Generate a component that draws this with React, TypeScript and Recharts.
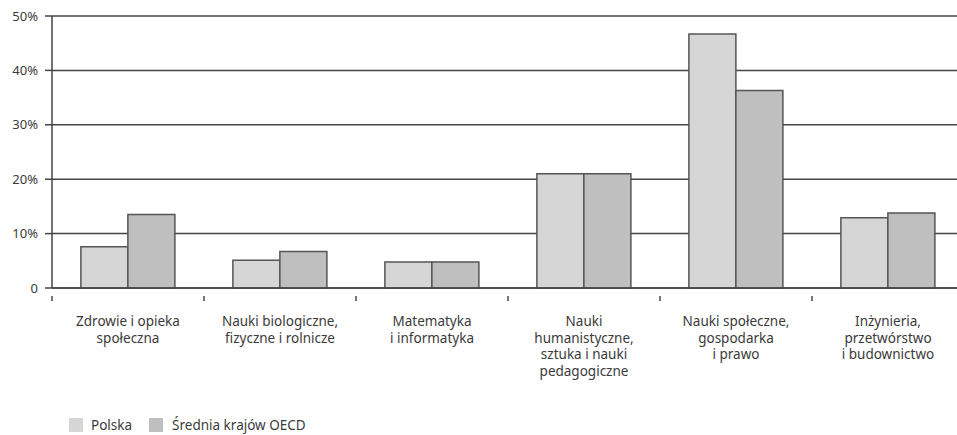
import React from 'react';
import {
  BarChart,
  Bar,
  CartesianGrid,
  XAxis,
  YAxis,
  Legend,
} from 'recharts';

const categories = [
  'Zdrowie i opieka\nspołeczna',
  'Nauki biologiczne,\nfizyczne i rolnicze',
  'Matematyka\ni informatyka',
  'Nauki\nhumanistyczne,\nsztuka i nauki\npedagogiczne',
  'Nauki społeczne,\ngospodarka\ni prawo',
  'Inżynieria,\nprzetwórstwo\ni budownictwo',
];
const polska = [7.6, 5.1, 4.8, 21.0, 46.7, 12.9];
const oecd = [13.5, 6.7, 4.8, 21.0, 36.3, 13.8];
const yTicks = [0, 10, 20, 30, 40, 50];

const data = categories.map((name, i) => ({
  name,
  polska: polska[i],
  oecd: oecd[i],
}));

const FONT = '"Noto Sans", "Open Sans", sans-serif';
const TEXT = '#3a3a3a';
const LINE = '#444';
const CHART_W = 964;
const BAND = (CHART_W - 52) / categories.length;

const CategoryTick = (props: any) => {
  const { x, y, payload } = props;
  const lines: string[] = String(payload.value).split('\n');
  const left = x - BAND / 2;
  return (
    <g>
      <line x1={left} y1={y} x2={left} y2={y + 5} stroke={LINE} strokeWidth={1.5} />
      <text x={x} y={y + 30} textAnchor="middle" fill={TEXT} fontSize={13.5} fontFamily={FONT}>
        {lines.map((l, i) => (
          <tspan key={i} x={x} dy={i === 0 ? 0 : 16.5}>
            {l}
          </tspan>
        ))}
      </text>
    </g>
  );
};

const LegendBox = () => (
  <div
    style={{
      display: 'flex',
      alignItems: 'center',
      paddingLeft: 69,
      paddingTop: 15,
      fontFamily: FONT,
      fontSize: 13.5,
      color: TEXT,
      height: 20,
    }}
  >
    <span style={{ width: 14, height: 14, background: '#d6d6d6', marginRight: 8 }} />
    <span style={{ marginRight: 17 }}>Polska</span>
    <span style={{ width: 14, height: 14, background: '#bfbfbf', marginRight: 9 }} />
    <span>Średnia krajów OECD</span>
  </div>
);

export default function App() {
  return (
    <div style={{ position: 'absolute', left: 0, top: 0, width: 957, height: 435, overflow: 'hidden' }}>
      <BarChart
        width={CHART_W}
        height={435}
        data={data}
        margin={{ top: 16, right: 0, bottom: 0, left: 0 }}
        barCategoryGap="19%"
        barGap={0}
      >
        <CartesianGrid vertical={false} stroke={LINE} strokeWidth={1.5} />
        <XAxis
          dataKey="name"
          height={112}
          interval={0}
          axisLine={{ stroke: LINE, strokeWidth: 1.5 }}
          tickLine={false}
          tick={<CategoryTick />}
        />
        <YAxis
          width={52}
          domain={[0, 50]}
          ticks={yTicks}
          interval={0}
          tickFormatter={(v: number) => (v === 0 ? '0' : `${v}%`)}
          axisLine={{ stroke: LINE, strokeWidth: 1.5 }}
          tickLine={{ stroke: LINE, strokeWidth: 1.5 }}
          tickSize={7}
          tickMargin={7}
          tick={{ fill: TEXT, fontSize: 13, fontFamily: FONT }}
        />
        <Legend verticalAlign="bottom" align="left" height={35} content={<LegendBox />} />
        <Bar dataKey="polska" name="Polska" fill="#d6d6d6" stroke="#555" strokeWidth={1.5} isAnimationActive={false} />
        <Bar dataKey="oecd" name="Średnia krajów OECD" fill="#bfbfbf" stroke="#555" strokeWidth={1.5} isAnimationActive={false} />
      </BarChart>
    </div>
  );
}
